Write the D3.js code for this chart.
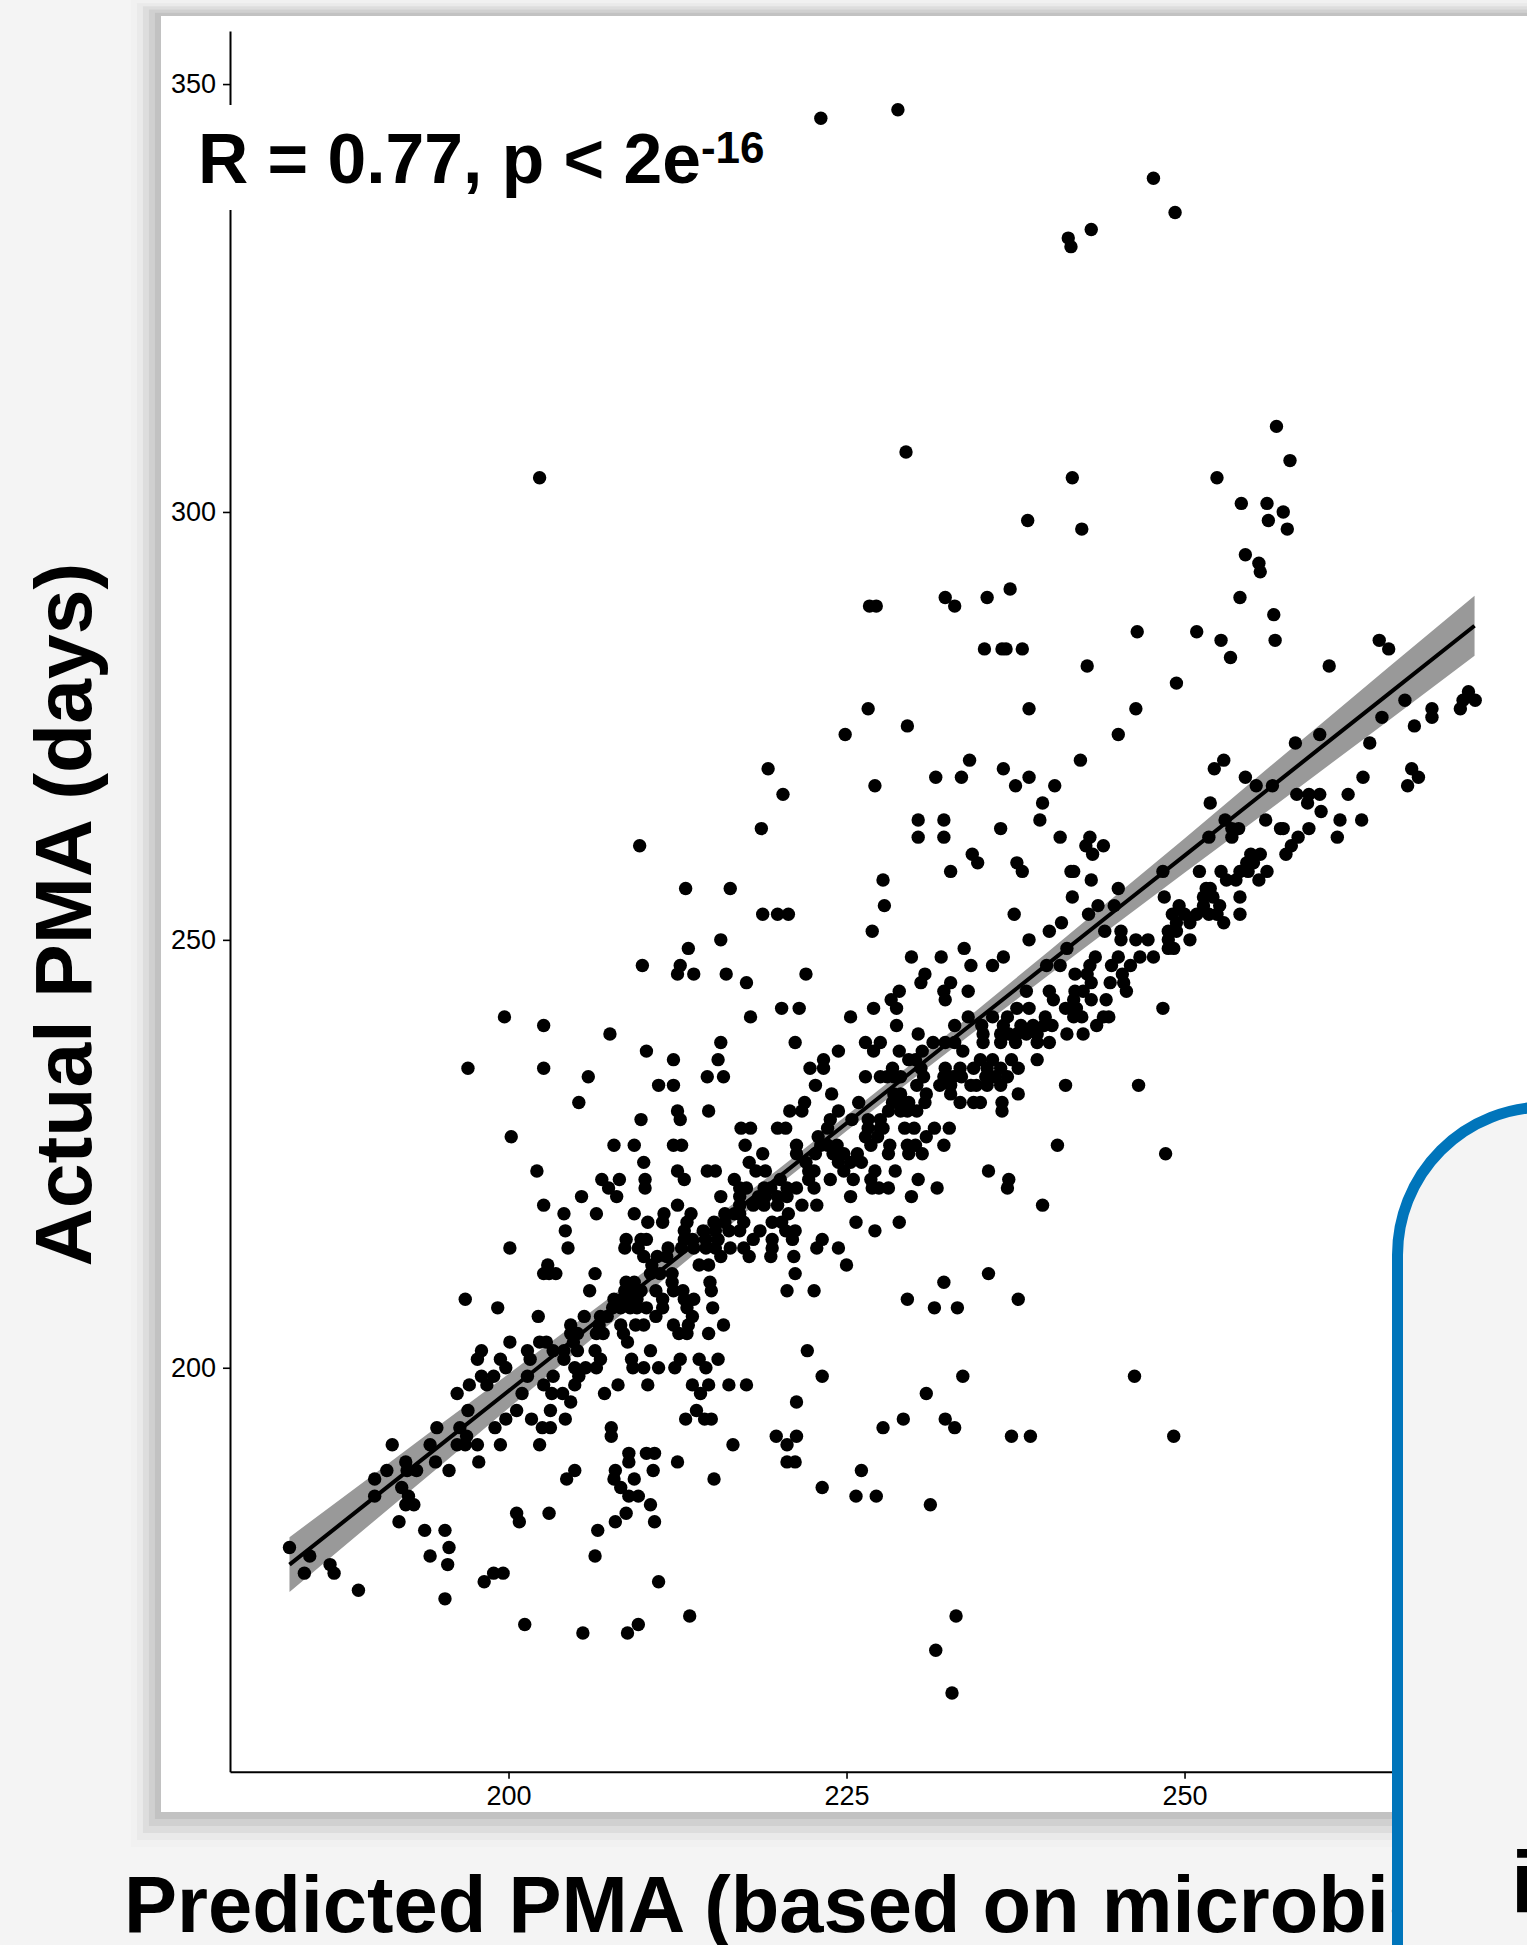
<!DOCTYPE html>
<html>
<head>
<meta charset="utf-8">
<script src="https://cdn.jsdelivr.net/npm/d3@7"></script>
<style>
html,body{margin:0;padding:0;background:#f4f4f4;overflow:hidden}
svg{display:block}
text{font-family:"Liberation Sans",Arial,sans-serif}
</style>
</head>
<body>
<svg id="chart" width="1527" height="1945"></svg>
<script>
// Each row: [actual PMA, predicted PMA of every point on that row...]
const upperRows = [
[347,228.8],[346,223.1],[339,247.7],[335,249.3],[333,243.1],[332,241.4],[331,241.6],[310,256.8],[307,229.4],[306,257.8],
[304,202.3,241.7,252.4],[301,254.2,256.1],[300,257.3],[299,238.4,256.2],[298,242.4,257.6],[295,254.5],[294,255.5],[293,255.6],
[291,237.1],[290,232.3,235.4,254.1],[289,226.7,227.2,233],[288,256.6],[286,246.5,250.9],[285,252.7,256.7,264.4],
[284,235.2,236.5,236.8,238,265.1],[283,253.4],[282,242.8,260.7],[280,249.4],[279,271],[278,266.3,270.6,271.5],
[277,226.6,238.5,246.4,268.3,270.4],[276,264.6,268.3],[275,229.5,267],[274,224.9,245.1,260],[273,258.2,263.7],
[271,234.1,242.3,252.9],[270,219.2,236.6,252.2,266.8],[269,231.6,233.5,238.5,254.5,263.2,267.3],
[268,227.1,237.5,240.4,255.3,256.5,266.5],[267,220.3,258.3,259.2,260,262.1],[266,239.5,251.9,259.1],[265,260.1],
[264,230.3,232.2,239.3,253,256,261.5,263.1],[263,218.7,236.4,253.5,254,257.1,257.3,259.2],
[262,230.3,232.2,240.8,243,251.8,253.5,258.4,261.3],[261,209.7,242.7,244,257.9],[260,234.3,243.2,254.9,255.6,257.5]
];
const middleRows = [
[259,234.7,237.6,254.6,255.1],[258,232.7,238,241.6,241.8,248.4,251.1,252.7,254.1,254.7,256.1],
[257,227.7,243.1,253.1,253.8,255.5],[256,213.1,216.4,245.1,251.6,251.9],[255,241.7,248.5,251.4,252.1,254.1],
[254,227.8,243.6,244.8,249.6,251.4,252.6],[253,218.8,219.9,220.7,237.4,242.9,249.1,250,250.9,251.8,252.4,254.1],
[252,240.9,249.4,250.4,252.9],[251,226.9,240,244.1,245.3,248.8,249.4],[250,215.7,238.5,245.3,246.4,247.3,248.8,250.4],
[249,213.3,233.7,241.3,248.8,249.2],[248,229.8,232,236.6,243.4,245.1,246.7,247.7],
[247,209.9,212.7,234.2,235.8,239.8,240.8,243,244.6,246],[246,212.5,213.7,216.1,222,230.8,241.9,242.8,245.4],
[245,217.6,230.5,232.7,243.1,244.5,245.5],[244,228.9,232.2,234,238.3,240,241.9,242.5,245.7],
[243,228.3,232.3,240.3,241.8,243.1,244.2],[242,220.2,221.5,227,228.7,237.6,238.5,241.2,242,248.4],
[241,199.7,217.9,225.3,234,235.8,236.9,239.7,241.8,242.4,244,244.4],
[240,202.6,228.7,233,235,236.6,237.9,238.8,239.6,240.2,243.5],
[239,207.5,230.3,235.1,236.4,237,237.6,238.3,239.1,241.3,242.5],
[238,215.7,221.2,226.4,227.5,231.4,232.3,233,235.1,236.4,237.5,239.1,240],
[237,210.2,224.4,227,228.9,230.6,233.6],[236,212.2,215.5,223.3,229.6,230.1,234.9,235.8,237.2,239.1],
[235,197,202.6,222.3,223.3,228.4,230.5,232.3,233.4,234.4,235.4,236.4,237.7],
[234,205.9,214.7,215.9,226.4,227.5,228,228.5,229,230.7,232.2,232.9,233.5,235.3,236,236.9],
[233,211.1,212.2,222.7,230.2,231.9,232.7,234.2,234.6,235.4,236.4,241.2,246.6],
[232,223.9,228.5,229,230.9,232.7,237.7],[231,205.2,221.9,225.9,228.4,229,229.6,230.8,233.4,234.4,234.9,236.5],
[230,212.5,214.8,220.8,221.7,224.4,228.1,229,229.5,230.2,236.5],[229,209.8,212.7,223.8,225.4,226.6,227.5],
[228,217.2,217.9,219.9,220.5,223.6,226.6,227.5,227.7,229.3,230,231.5,232.6],[227,200.2,222.9,226.4,227.3,230.9],
[226,207.8,209.3,212.2,212.8,217.5,221.3,223.1,223.6,224.3,226.8,228.2,229.5,230.1,232.2,240.6],
[225,218.8,221.3,222.7,224,224.8,225.8,228.1,229.6,230.6,248.6],[224,210,217.8,222,224.4,225.3,226.1]
];
const centreRows = [
[223,202.1,212.5,214.7,215.3,218.3,219,222.2,222.6,224.8,227.1,228.6,235.5],
[222,206.9,208.2,210.1,213,216.7,220.1,222.2,223.8,225.5,226.8,230.3,237],
[221,207.4,210.1,217.1,217.6,218.9,219.4,220.6,221.3,222.6,226.9,227.4,228.1,231.7,236.9],
[220,205.4,208,215.7,217.1,218.5,219,219.9,220.6,225.3,229.8],[219,202.6,212.5,217.1,218.1,218.9,219.9,221.7,222.8,239.5],
[218,204.1,206.5,209.3,211.5,213.5,216,216.7,217.1,220.7],[217,210.3,211.4,213.2,215.2,216,217.4,219.5,220.2,225.7,228.9],
[216,204.2,213,214.4,215.3,216.3,217.1,218.6,220.5,221.2,227.1],[215,208.7,209.8,210.2,213,213.6,214.6,215.5,218.1,219.5,221,223.2],
[214,200.1,204.4,208.6,209.6,211.8,212.8,213.7,214.6,215.3,216.4,217.4,219.5,222.8,224.4],[213,210,211,211.7,215.7,217.8,219.4,221.1],
[212,202.9,210.6,214.1,214.8,225],[211,202.6,203,203.5,206.4,210.5,211.2,212.1,221.2,235.5],[210,208.7,209.3,212.1,214.9,232.2],
[209,206,208.6,209.3,209.8,210.9,212.2,212.9,215,220.6,222.6],[208,196.8,207.8,208.4,209,209.5,211.4,213,213.7,229.5,237.7],
[207,199.2,207.7,208.3,209,209.5,210.2,211.4,213.2,215.1,231.5,233.2],[206,202.2,205.6,206.8,207.3,210.9,213.6],
[205,204.6,206.7,208.3,209.4,210,212.2,213.3,215.9],[204,204.6,205.1,206.5,207,208.5,212.6,213.2,214.8],
[203,200.1,202.3,202.8,204.8,208.8],[202,198,201.4,203.3,204.1,205.1,206.4,210.5,222.1],
[201,197.7,199.4,201.6,204.1,206.8,209.1,212.7,214.1,215.5],[200,199.8,204.9,205.7,206.5,209.2,210,211.1,212.3,214.6],
[199,198,198.9,201.4,203.3,205.2,223.2,233.6,246.3],[198,197.1,198.4,202.6,204.9,208.1,210.3,213.6,214.8,216.3,217.6],
[197,196.2,201,203.2,204,207.1,214.2,230.9]
];
const lowerRows = [
[196,204.6,221.3],[195,197,200.6,203.1,213.9],[194,199.8,201.7,204.2,213.1,214.5,215,229.2,232.3],
[193,194.7,196.4,199,202.5,203.1,207.6,227.7,233],[192,196.9,207.6,219.8,221.3,237.2,238.6,249.2],
[191,191.4,194.2,196.2,196.8,197.7,199.4,202.3,216.6,220.6],[190,208.9,210.2,210.8],
[189,192.4,194.6,197.8,208.9,212.5,220.6,221.2],[188,191,192.5,193.2,195.6,204.9,207.9,210.7,226.1],
[187,190.1,204.3,207.8,209.3,215.2],[186,192.1,208.3,223.2],[185,190.1,192.6,208.9,209.6,225.7,227.2],
[184,192.4,193,210.5,231.2],[183,200.6,203,208.7],[182,191.9,200.8,207.9,210.8],[181,193.8,195.3,206.6],
[179,183.8,195.6],[178,185.3,194.2,206.4],[177,186.8,195.5],[176,184.9,187.1,198.9,199.6],[175,198.2,211.1],
[174,188.9],[173,195.3],[171,213.4,233.1],[170,201.2,209.6],[169,205.5,208.8],[167,231.6],[162,232.8]
];

const fitPredicted = [183.8,190,195,200,205,210,215,220,225,230,235,240,245,250,255,260,265,271.45];
const fitActual    = [177,184.76,191.02,197.28,203.53,209.79,216.05,222.31,228.57,234.82,241.08,247.34,253.6,259.85,266.11,272.37,278.63,286.7];
const fitLower     = [173.8,182.01,188.62,195.28,201.83,208.39,214.9,221.36,227.67,233.87,239.93,245.94,251.9,257.85,263.71,269.62,275.53,283.2];
const fitUpper     = [180.2,187.51,193.42,199.28,205.23,211.19,217.2,223.26,229.47,235.77,242.23,248.74,255.3,261.85,268.51,275.12,281.73,290.2];

const xTicks = [200,225,250,275];
const yTicks = [200,250,300,350];
const xTitle = "Predicted PMA (based on microbiome)";
const yTitle = "Actual PMA (days)";

const svg = d3.select("#chart");
const x = d3.scaleLinear().domain([179.4,275.3]).range([230,1526.6]);
const y = d3.scaleLinear().domain([152.8,356.2]).range([1771.7,31]);

// Card with stepped soft shadow
const shadowSteps = [[35,"#f1f1f1"],[28,"#eaeaea"],[21,"#dddddd"],[14,"#d0d0d0"],[7,"#c2c2c2"]];
const card = {l:161,t:16,r:1560,b:1812};
svg.selectAll("rect.shadow").data(shadowSteps).join("rect").attr("class","shadow")
  .attr("x",d=>card.l-d[0]*0.86).attr("y",d=>card.t-d[0]*0.46).attr("width",d=>card.r-card.l+d[0]*2)
  .attr("height",d=>card.b-card.t+d[0]*1.46).attr("fill",d=>d[1]);
svg.append("rect").attr("x",card.l).attr("y",card.t).attr("width",card.r-card.l).attr("height",card.b-card.t).attr("fill","#fff");

// Confidence band and fit line
const fit = fitPredicted.map((p,i)=>({p,a:fitActual[i],lo:fitLower[i],hi:fitUpper[i]}));
svg.append("path").datum(fit).attr("fill","#999999")
  .attr("d",d3.area().x(d=>x(d.p)).y0(d=>y(d.lo)).y1(d=>y(d.hi)));
svg.append("path").datum(fit).attr("fill","none").attr("stroke","#000").attr("stroke-width",4)
  .attr("d",d3.line().x(d=>x(d.p)).y(d=>y(d.a)));

// Points
const points = [...upperRows,...middleRows,...centreRows,...lowerRows]
  .flatMap(r=>r.slice(1).map(p=>({p,a:r[0]})));
svg.append("g").selectAll("circle").data(points).join("circle")
  .attr("cx",d=>x(d.p)).attr("cy",d=>y(d.a)).attr("r",6.7).attr("fill","#000");

// Axes
const gx = svg.append("g").attr("transform",`translate(0,${y.range()[0]})`)
  .call(d3.axisBottom(x).tickValues(xTicks).tickSize(7).tickSizeOuter(0).tickPadding(7));
const gy = svg.append("g").attr("transform",`translate(${x.range()[0]},0)`)
  .call(d3.axisLeft(y).tickValues(yTicks).tickSize(7).tickSizeOuter(0).tickPadding(7));
[gx,gy].forEach(g=>{
  g.select(".domain").attr("stroke","#000").attr("stroke-width",2);
  g.selectAll(".tick line").attr("stroke","#000").attr("stroke-width",1.6);
  g.selectAll(".tick text").attr("fill","#000").style("font-family",'"Liberation Sans"').style("font-size","27px");
});

// R label on white patch, interrupting the y axis
svg.append("rect").attr("x",195).attr("y",105).attr("width",580).attr("height",105).attr("fill","#fff");
const lab = svg.append("text").attr("x",198).attr("y",183).attr("font-weight","700").attr("font-size",69.6).attr("fill","#000");
lab.append("tspan").text("R = 0.77, p < 2e");
lab.append("tspan").attr("font-size",44).attr("dy",-20).text("-16");

// Axis titles
svg.append("text").attr("x",124).attr("y",1932).attr("font-weight","700").attr("font-size",79.5).attr("fill","#000").text(xTitle);
svg.append("text").attr("transform","translate(91,914.5) rotate(-90)").attr("text-anchor","middle")
  .attr("font-weight","700").attr("font-size",80.5).attr("fill","#000").text(yTitle);

// Overlapping rounded box
svg.append("path").attr("d","M1397.5,1960V1255A148,148 0 0 1 1545.5,1107H1600V1960Z")
  .attr("fill","#f4f4f4").attr("stroke","#0075bb").attr("stroke-width",11);
svg.append("text").attr("x",1511).attr("y",1912).attr("font-weight","700").attr("font-size",87).attr("fill","#000").text("i");
</script>
</body>
</html>
